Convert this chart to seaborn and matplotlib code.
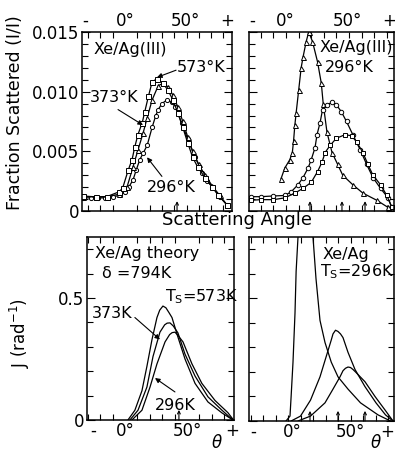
import seaborn as sns
import matplotlib.pyplot as plt
import pandas as pd
import numpy as np
from matplotlib.ticker import MultipleLocator

# --- données ---
# haut gauche : Xe/Ag(111), trois températures de surface
tl_sq_ang = [-34, -24, -15, -5, -2, 2.5, 5.7, 8, 10.5, 14, 16, 19, 22, 26, 31, 35, 39, 43, 47, 51, 55, 59, 65, 71, 76, 83]
tl_sq_val = [0.00126, 0.00118, 0.0012, 0.0016, 0.0019, 0.0034, 0.0043, 0.0054, 0.0064, 0.0074, 0.0083, 0.0096, 0.0108, 0.0111,
             0.0107, 0.0101, 0.0093, 0.0082, 0.0070, 0.0057, 0.0045, 0.0037, 0.0028, 0.0020, 0.0013, 0.0005]
tl_tr_ang = [-34, -24, -15, -5, 1.6, 6.5, 10.5, 14.6, 18, 22, 27, 31, 35, 39, 43, 47, 51, 55, 60, 65, 71, 77, 83]
tl_tr_val = [0.0012, 0.0012, 0.0012, 0.0014, 0.0020, 0.0037, 0.0051, 0.0065, 0.0078, 0.0093, 0.0105, 0.0107, 0.0104, 0.0097,
             0.0087, 0.0075, 0.0062, 0.0050, 0.0039, 0.0030, 0.0021, 0.0013, 0.0005]
tl_ci_ang = [-34, -28, -22, -16, -10, -4, 0, 3, 6.5, 9, 12, 15, 18, 22, 25, 27, 30, 34, 38, 41, 46, 51, 57, 63, 67, 71, 77, 83]
tl_ci_val = [0.0011, 0.0011, 0.0011, 0.0011, 0.0012, 0.0013, 0.0016, 0.0020, 0.0026, 0.0034, 0.0043, 0.0049, 0.0055, 0.0070,
             0.0080, 0.0085, 0.0090, 0.0093, 0.0091, 0.0087, 0.0074, 0.0060, 0.0045, 0.0032, 0.0025, 0.0020, 0.0012, 0.0005]

# haut droite : Xe/Ag(111) 296 K
tr_tr_ang = [-4, -1, 3, 5, 6, 7, 8, 10, 12, 13.5, 16, 18, 21, 25, 28, 29.5, 32.5, 36.5, 41, 45, 53, 61, 72, 81]
tr_tr_val = [0.0027, 0.0036, 0.0043, 0.0049, 0.0059, 0.0072, 0.0082, 0.0101, 0.0120, 0.0129, 0.0142, 0.0150, 0.0142, 0.0125,
             0.0107, 0.0090, 0.0066, 0.0049, 0.0039, 0.0030, 0.0022, 0.0015, 0.0009, 0.0003]
tr_ci_ang = [-28, -20, -10, -1, 4, 9.5, 13.5, 17.5, 20, 23, 24.6, 27, 29, 32.5, 36.5, 40, 44, 48, 53, 59, 64, 69, 75, 81, 84]
tr_ci_val = [0.0012, 0.0012, 0.00126, 0.0013, 0.0016, 0.0022, 0.0028, 0.0036, 0.0043, 0.0053, 0.0064, 0.0074, 0.0085, 0.0089,
             0.0091, 0.0089, 0.0083, 0.0075, 0.0064, 0.0051, 0.0039, 0.0028, 0.0019, 0.0011, 0.0003]
tr_sq_ang = [-28, -20, -10, -1, 7, 13.5, 20, 25, 28.6, 31, 35, 40, 47, 52, 56, 61, 65, 69, 75, 80, 84]
tr_sq_val = [0.0009, 0.00095, 0.00095, 0.0011, 0.0015, 0.0019, 0.0024, 0.0033, 0.0041, 0.0049, 0.0055, 0.0061, 0.0064, 0.0063,
             0.0058, 0.0049, 0.0039, 0.0030, 0.0022, 0.0013, 0.0003]

# bas gauche : théorie
bl_a_ang = [2.4, 8, 13.7, 17.7, 21.8, 25.8, 28, 30.6, 33, 35.5, 37.9, 42.7, 48.4, 56.5, 66.9, 78.2, 87]
bl_a_val = [0, 0.04, 0.12, 0.22, 0.33, 0.42, 0.45, 0.467, 0.46, 0.44, 0.42, 0.34, 0.25, 0.15, 0.074, 0.029, 0]
bl_b_ang = [4, 10.5, 17.7, 22.6, 28.2, 32, 34, 36.3, 39, 42.7, 48.4, 56.5, 66.9, 78.2, 87]
bl_b_val = [0, 0.04, 0.135, 0.26, 0.36, 0.39, 0.397, 0.398, 0.385, 0.357, 0.27, 0.18, 0.095, 0.04, 0]
bl_c_ang = [5.6, 13.7, 20.2, 25.8, 32.3, 36, 38, 40.3, 43, 46.8, 54, 62, 72.6, 83, 87.5]
bl_c_val = [0, 0.04, 0.135, 0.23, 0.32, 0.35, 0.358, 0.36, 0.345, 0.32, 0.23, 0.15, 0.08, 0.03, 0]

# bas droite : Xe/Ag Ts=296K
br_a_ang = [-1.6, 1.6, 2.5, 4, 5.6, 6.5, 8, 14, 20, 22.4, 25.6, 29.6, 34.6, 40, 48, 58, 72, 82]
br_a_val = [0, 0.02, 0.1, 0.24, 0.44, 0.61, 0.75, 1.4, 0.75, 0.58, 0.41, 0.32, 0.24, 0.18, 0.13, 0.074, 0.025, 0]
br_b_ang = [2.5, 10, 18, 25.6, 30.4, 34.6, 36, 38, 40, 42, 44, 48, 53.6, 61.6, 70.4, 78, 84]
br_b_val = [0, 0.02, 0.085, 0.18, 0.26, 0.33, 0.355, 0.37, 0.365, 0.355, 0.34, 0.28, 0.21, 0.14, 0.074, 0.025, 0]
br_c_ang = [8, 18, 29.6, 36, 41.6, 44, 46, 48, 50, 52, 54, 61.6, 69.6, 77.6, 84]
br_c_val = [0, 0.02, 0.074, 0.13, 0.18, 0.205, 0.215, 0.22, 0.218, 0.21, 0.2, 0.16, 0.1, 0.045, 0]

# étiquettes d'axe des angles
x_labels = ['-', '0°', '50°', '+']

sns.set_style('ticks')
plt.rcParams['font.family'] = ['DejaVu Sans']
plt.rcParams['mathtext.default'] = 'regular'
for k in ['text.color', 'axes.labelcolor', 'xtick.color', 'ytick.color', 'axes.edgecolor']:
    plt.rcParams[k] = 'black'

fig = plt.figure(figsize=(3.95, 4.51), dpi=100)
W, H = 395, 451


def box(x0, x1, y0, y1):
    return [x0 / W, 1 - y1 / H, (x1 - x0) / W, (y1 - y0) / H]


ax_tl = fig.add_axes(box(82, 232, 32, 211))
ax_tr = fig.add_axes(box(249, 394, 32, 211))
ax_bl = fig.add_axes(box(87, 234, 237, 420))
ax_br = fig.add_axes(box(249, 394, 237, 421))


def style(ax, xlim, ylim, label_pos, top, ymajor, yminor, ylabels):
    ax.set_xlim(*xlim)
    ax.set_ylim(*ylim)
    ax.set_xticks(label_pos, x_labels)
    ax.xaxis.set_minor_locator(MultipleLocator(10))
    ax.tick_params(axis='x', which='major', length=0, labelsize=12, pad=1.5,
                   labeltop=top, labelbottom=not top, top=True, bottom=True)
    ax.tick_params(axis='x', which='minor', direction='in', length=4, width=0.8, top=True, bottom=True)
    ax.set_yticks(ymajor, ylabels if ylabels else [''] * len(ymajor))
    ax.yaxis.set_minor_locator(MultipleLocator(yminor))
    ax.tick_params(axis='y', which='major', direction='in', length=6, width=0.8, labelsize=12, pad=2,
                   left=True, right=True, labelleft=bool(ylabels))
    ax.tick_params(axis='y', which='minor', direction='in', length=4, width=0.8, left=True, right=True)
    for s in ax.spines.values():
        s.set_linewidth(1.1)
        s.set_visible(True)
    ax.set_xlabel('')
    ax.set_ylabel('')


def curve(ax, ang, val, marker=None, ms=3.5):
    df = pd.DataFrame({'angle': ang, 'valeur': val})
    kw = dict(color='black', lw=0.9, ax=ax)
    if marker:
        kw.update(marker=marker, ms=ms, mfc='white', mec='black', mew=0.7)
    sns.lineplot(data=df, x='angle', y='valeur', **kw)


def spec(ax, a):
    ax.annotate('', xy=(a, 0.055), xycoords=('data', 'axes fraction'), xytext=(a, 0.0),
                textcoords=('data', 'axes fraction'),
                arrowprops=dict(arrowstyle='->', lw=0.8, color='black', shrinkA=0, shrinkB=0, mutation_scale=5))


def pointer(ax, head, tail):
    ax.annotate('', xy=head, xytext=tail,
                arrowprops=dict(arrowstyle='-|>', lw=0.8, color='black', shrinkA=0, shrinkB=0, mutation_scale=7))


# haut gauche
curve(ax_tl, tl_ci_ang, tl_ci_val, 'o', 3.0)
curve(ax_tl, tl_tr_ang, tl_tr_val, '^', 3.6)
curve(ax_tl, tl_sq_ang, tl_sq_val, 's', 3.6)
style(ax_tl, (-35, 87), (0, 0.015), [-32.5, 0, 49, 83], True,
      [0, 0.005, 0.010, 0.015], 0.001, ['0', '0.005', '0.010', '0.015'])
spec(ax_tl, 42.3)
ax_tl.text(-26, 0.0135, 'Xe/Ag(III)', fontsize=11.5, ha='left', va='center')
ax_tl.text(42.3, 0.0120, '573°K', fontsize=11.5, ha='left', va='center')
pointer(ax_tl, (26, 0.0112), (41.5, 0.0118))
ax_tl.text(-28.5, 0.00955, '373°K', fontsize=11.5, ha='left', va='center')
pointer(ax_tl, (14.6, 0.0072), (-5.7, 0.0085))
ax_tl.text(17.9, 0.0020, '296°K', fontsize=11.5, ha='left', va='center')
pointer(ax_tl, (17.9, 0.0045), (30, 0.0029))

# haut droite
curve(ax_tr, tr_tr_ang, tr_tr_val, '^', 3.6)
curve(ax_tr, tr_ci_ang, tr_ci_val, 'o', 3.2)
curve(ax_tr, tr_sq_ang, tr_sq_val, 's', 3.4)
style(ax_tr, (-29.4, 85.7), (0, 0.015), [-27, -0.8, 49, 81.5], True,
      [0, 0.005, 0.010, 0.015], 0.001, None)
for a in [19, 44.4, 62.7]:
    spec(ax_tr, a)
ax_tr.text(56, 0.01366, 'Xe/Ag(III)', fontsize=11.5, ha='center', va='center')
ax_tr.text(50, 0.0120, '296°K', fontsize=11.5, ha='center', va='center')

# bas gauche
for ang, val in [(bl_a_ang, bl_a_val), (bl_b_ang, bl_b_val), (bl_c_ang, bl_c_val)]:
    curve(ax_bl, ang, val)
style(ax_bl, (-30.6, 87.9), (0, 0.75), [-25.8, 0, 50, 86.3], False,
      [0, 0.5], 0.1, ['0', '0.5'])
spec(ax_bl, 43.5)
ax_bl.text(-24.2, 0.684, 'Xe/Ag theory', fontsize=11.5, ha='left', va='center')
ax_bl.text(-18.5, 0.602, 'δ =794K', fontsize=11.5, ha='left', va='center')
ax_bl.text(32.3, 0.504, r'T$_{S}$=573K', fontsize=11.5, ha='left', va='center')
ax_bl.text(-26.6, 0.4385, '373K', fontsize=11.5, ha='left', va='center')
pointer(ax_bl, (28.2, 0.33), (8, 0.42))
ax_bl.text(24.2, 0.061, '296K', fontsize=11.5, ha='left', va='center')
pointer(ax_bl, (24.2, 0.172), (40.3, 0.115))

# bas droite
for ang, val in [(br_a_ang, br_a_val), (br_b_ang, br_b_val), (br_c_ang, br_c_val)]:
    curve(ax_br, ang, val)
style(ax_br, (-31.2, 84.8), (0, 0.75), [-28, 3.2, 49.6, 79.5], False,
      [0, 0.5], 0.1, None)
for a in [17.6, 40, 61.6]:
    spec(ax_br, a)
ax_br.text(28, 0.68, 'Xe/Ag', fontsize=11.5, ha='left', va='center')
ax_br.text(25.6, 0.61, r'T$_{S}$=296K', fontsize=11.5, ha='left', va='center')

# titres d'axes
fig.text(15 / W, 1 - 113 / H, 'Fraction Scattered (I/I)', rotation=90, fontsize=12.5, ha='center', va='center')
fig.text(237 / W, 1 - 220 / H, 'Scattering Angle', fontsize=13, ha='center', va='center')
fig.text(20 / W, 1 - 333 / H, r'J (rad$^{-1}$)', rotation=90, fontsize=12, ha='center', va='center')
fig.text(217 / W, 1 - 443 / H, 'θ', fontsize=12, style='italic', ha='center', va='center')
fig.text(376 / W, 1 - 443 / H, 'θ', fontsize=12, style='italic', ha='center', va='center')

plt.savefig('out.png', dpi=100)
